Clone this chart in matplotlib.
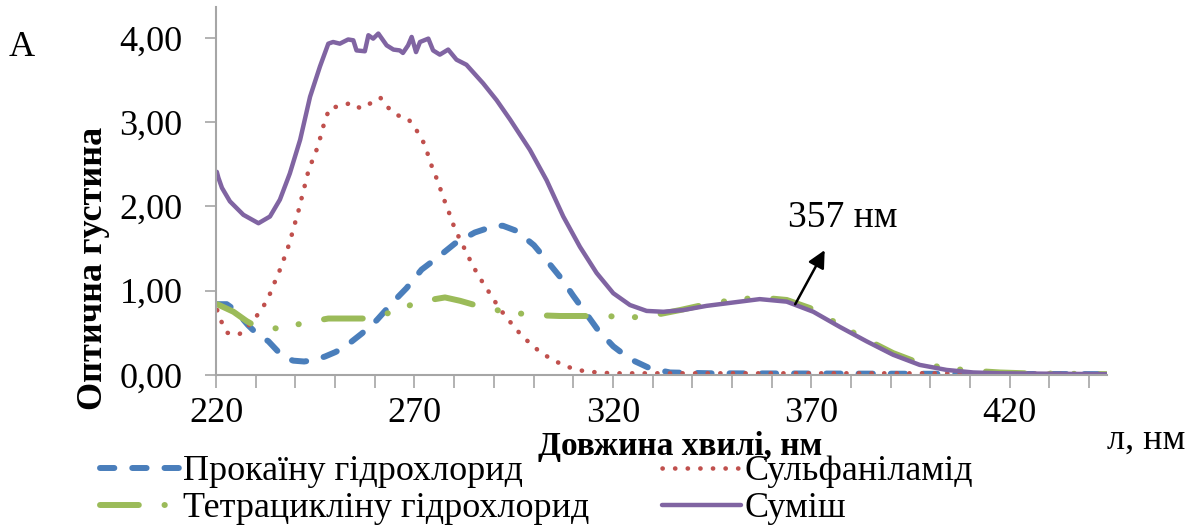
import numpy as np
import matplotlib
matplotlib.use("Agg")
import matplotlib.pyplot as plt

# wavelength (nm) / optical density
procaine_x = [220.3, 222.7, 224.8, 228.1, 230.5, 233.2, 237.0, 239.5, 242.2, 245.0, 247.5, 250.0,
              252.1, 256.7, 260.5, 264.5, 268.0, 271.8, 276.0, 280.2, 285.2, 290.3, 292.3, 295.7,
              300.1, 303.3, 307.1, 310.0, 313.4, 316.3, 320.1, 324.3, 329.3, 334.4, 345.0, 444.4]
procaine_y = [0.84, 0.84, 0.77, 0.59, 0.48, 0.40, 0.21, 0.17, 0.16, 0.18, 0.22, 0.27,
              0.32, 0.49, 0.65, 0.86, 1.03, 1.25, 1.40, 1.56, 1.69, 1.77, 1.77, 1.71,
              1.54, 1.36, 1.14, 0.94, 0.72, 0.53, 0.34, 0.19, 0.08, 0.03, 0.02, 0.01]

sulfa_x = [220.3, 221.4, 222.9, 225.8, 228.1, 230.1, 231.9, 233.4, 234.6, 235.8, 236.9, 238.0,
           238.9, 239.7, 240.6, 241.3, 242.1, 242.8, 243.7, 244.9, 245.9, 246.7, 247.5, 248.7,
           251.7, 254.0, 256.5, 259.2, 261.4, 263.4, 265.8, 268.4, 270.3, 272.0, 273.1, 274.0,
           275.2, 276.3, 277.3, 278.4, 279.4, 280.6, 282.0, 283.3, 284.7, 286.2, 287.9, 289.6,
           291.3, 293.2, 295.2, 297.3, 299.6, 301.9, 304.6, 307.3, 310.3, 313.4, 316.5, 319.6,
           400.0, 444.4]
sulfa_y = [0.77, 0.63, 0.50, 0.48, 0.58, 0.69, 0.81, 0.94, 1.08, 1.21, 1.35, 1.49,
           1.63, 1.77, 1.91, 2.05, 2.19, 2.34, 2.48, 2.61, 2.75, 2.89, 3.03, 3.17,
           3.19, 3.23, 3.16, 3.23, 3.29, 3.17, 3.08, 3.04, 2.92, 2.79, 2.66, 2.52,
           2.38, 2.24, 2.10, 1.97, 1.83, 1.69, 1.56, 1.43, 1.30, 1.17, 1.05, 0.92,
           0.80, 0.68, 0.57, 0.45, 0.36, 0.26, 0.19, 0.12, 0.07, 0.04, 0.03, 0.02,
           0.02, 0.01]

tetra_x = [220.3, 224.4, 227.7, 230.3, 236.1, 242.4, 248.3, 259.6, 265.5, 271.4, 277.7, 281.5,
           288.2, 294.5, 300.5, 306.6, 318.4, 324.3, 330.4, 336.9, 343.6, 350.3, 357.0, 363.8,
           370.5, 377.2, 383.9, 390.6, 397.3, 404.1, 410.8, 417.5, 424.0, 444.4]
tetra_y = [0.84, 0.75, 0.64, 0.57, 0.55, 0.62, 0.67, 0.67, 0.77, 0.87, 0.92, 0.88,
           0.79, 0.74, 0.71, 0.70, 0.70, 0.68, 0.71, 0.77, 0.84, 0.89, 0.92, 0.89,
           0.78, 0.59, 0.42, 0.26, 0.14, 0.08, 0.05, 0.03, 0.02, 0.01]

mix_x = [220.2, 220.6, 221.5, 223.5, 226.9, 230.7, 233.6, 236.1, 238.6, 241.2, 243.7, 246.2, 248.3,
         249.5, 251.2, 253.3, 254.6, 255.4, 257.5, 258.4, 259.6, 260.9, 263.0, 264.7, 266.3,
         267.1, 268.4, 269.3, 270.4, 271.4, 273.5, 274.7, 276.4, 278.5, 280.6, 283.1, 287.3,
         290.7, 294.1, 299.1, 303.3, 307.5, 311.7, 315.9, 320.1, 324.3, 328.5, 332.7, 337.7,
         343.6, 350.3, 357.0, 363.8, 370.5, 377.2, 383.9, 390.6, 397.3, 404.1, 410.8, 417.5,
         444.4]
mix_y = [2.41, 2.34, 2.22, 2.06, 1.90, 1.80, 1.88, 2.08, 2.39, 2.79, 3.30, 3.66, 3.93,
         3.95, 3.93, 3.98, 3.97, 3.85, 3.84, 4.03, 3.99, 4.05, 3.91, 3.86, 3.85,
         3.82, 3.91, 4.01, 3.83, 3.95, 3.99, 3.85, 3.80, 3.86, 3.74, 3.68, 3.46,
         3.26, 3.03, 2.67, 2.31, 1.88, 1.52, 1.21, 0.97, 0.83, 0.76, 0.75, 0.77,
         0.82, 0.86, 0.90, 0.87, 0.75, 0.57, 0.40, 0.24, 0.12, 0.06, 0.03, 0.02,
         0.01]

labels = ["Прокаїну гідрохлорид", "Сульфаніламід", "Тетрацикліну гідрохлорид", "Суміш"]
xtick_labels = {220: "220", 270: "270", 320: "320", 370: "370", 420: "420"}

plt.rcParams['font.family'] = ['Liberation Serif', 'DejaVu Serif']

fig = plt.figure(figsize=(11.99, 5.30), dpi=100)
ax = fig.add_axes([216 / 1199, 155 / 530, 891 / 1199, 368 / 530])

l1, = ax.plot(procaine_x, procaine_y, color='#4A7EBB', lw=4.3,
              linestyle=(0, (2.4, 3.0)), dash_capstyle='round', label=labels[0])
l2, = ax.plot(sulfa_x, sulfa_y, color='#C0504D', lw=3.3,
              linestyle=(0, (0.05, 2.7)), dash_capstyle='round', label=labels[1])
l3, = ax.plot(tetra_x, tetra_y, color='#9BBB59', lw=4.3,
              linestyle=(0, (6.5, 4.3, 0.05, 3.9, 0.05, 4.3)), dash_capstyle='round',
              label=labels[2])
l4, = ax.plot(mix_x, mix_y, color='#8064A2', lw=3.2, solid_capstyle='round', label=labels[3])

ax.set_xlim(220, 444.5)
ax.set_ylim(0, 4.365)

ax.set_xticks(np.arange(220, 441, 10))
ax.set_xticklabels([xtick_labels.get(t, "") for t in np.arange(220, 441, 10)])
ax.set_yticks([0, 1, 2, 3, 4])
ax.set_yticklabels(["0,00", "1,00", "2,00", "3,00", "4,00"])

for s in ['top', 'right']:
    ax.spines[s].set_visible(False)
for s in ['left', 'bottom']:
    ax.spines[s].set_color('#A6A6A6')
    ax.spines[s].set_linewidth(1.5)
ax.tick_params(axis='both', colors='#A6A6A6', labelcolor='black', labelsize=26,
               width=1.2, direction='out')
ax.tick_params(axis='x', length=9, pad=7)
ax.tick_params(axis='y', length=8, pad=16)

fig.text(680 / 1199, 1 - 447 / 530, "Довжина хвилі, нм", ha='center', va='center',
         fontsize=24, fontweight='bold')
fig.text(94 / 1199, 1 - 268 / 530, "Оптична густина", ha='center', va='center',
         rotation=90, fontsize=26, fontweight='bold')
fig.text(1146 / 1199, 1 - 440 / 530, "л, нм", ha='center', va='center', fontsize=26)
fig.text(22 / 1199, 1 - 48 / 530, "A", ha='center', va='center', fontsize=26)

ax.text(377.9, 1.87, "357 нм", ha='center', va='center', fontsize=27)
ax.annotate("", xy=(373.7, 1.51), xytext=(365.6, 0.81),
            arrowprops=dict(arrowstyle='-|>', color='black', lw=1.8, mutation_scale=26))

fig.legend(handles=[l1, l3, l2, l4], loc='upper left', bbox_to_anchor=(100 / 1199, 1 - 455 / 530),
           ncol=2, frameon=False, fontsize=26, handlelength=2.2, handletextpad=0.1,
           columnspacing=2.0, labelspacing=0.1, borderaxespad=0, borderpad=0)

fig.savefig("out.png", dpi=100)
